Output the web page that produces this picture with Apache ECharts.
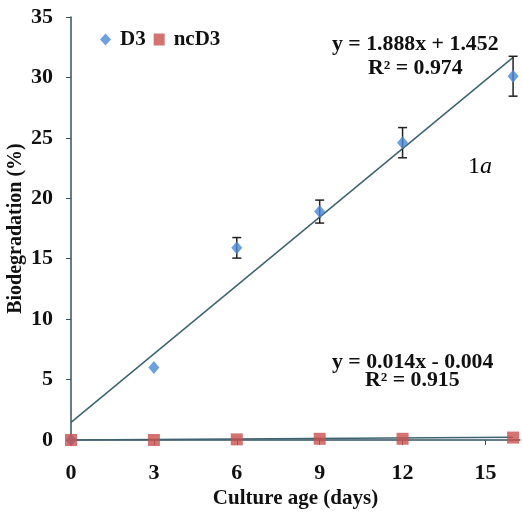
<!DOCTYPE html>
<html>
<head>
<meta charset="utf-8">
<script src="https://cdn.jsdelivr.net/npm/echarts@6/dist/echarts.min.js"></script>
<style>
  html, body { margin: 0; padding: 0; background: #fff; }
  #main { width: 522px; height: 515px; }
</style>
</head>
<body>
<div id="main"></div>
<script>
// culture age (days)
const days = [0, 3, 6, 9, 12, 16];
// biodegradation (%)
const d3 = [0, 6.0, 15.9, 18.9, 24.6, 30.1];
const d3Err = [0, 0, 0.85, 0.95, 1.25, 1.65];
const ncd3 = [0, 0, 0.05, 0.1, 0.1, 0.2];
// trendline end points
const d3Trend = [[0, 1.452], [16, 31.66]];
const ncd3Trend = [[0, -0.004], [16, 0.22]];

const serif = '"Liberation Serif", "DejaVu Serif", serif';
const axisColor = '#35515f';

const chart = echarts.init(document.getElementById('main'));

// equation text, a bit stretched like the original
function eq(x, y, text) {
    return { type: 'text', x: x, y: y, scaleX: 1.09, style: { text: text, font: 'bold 20px ' + serif, fill: '#111' } };
}

const option = {
    backgroundColor: '#fff',
    animation: false,
    grid: { left: 71, right: 2, top: 17, bottom: 75, outerBoundsMode: 'none', containLabel: false },
    legend: {
        left: 95,
        top: 24,
        itemWidth: 11,
        itemHeight: 12,
        itemGap: 8,
        textStyle: { fontFamily: serif, fontWeight: 'bold', fontSize: 21, color: '#111', padding: [0, 0, 0, 4] },
        data: [
            { name: 'D3', icon: 'diamond' },
            { name: 'ncD3', icon: 'rect' }
        ]
    },
    xAxis: {
        type: 'value',
        min: 0,
        max: 16.25,
        interval: 3,
        name: 'Culture age (days)',
        nameLocation: 'middle',
        nameGap: 48,
        nameMoveOverlap: false,
        nameTextStyle: { fontFamily: serif, fontWeight: 'bold', fontSize: 21, color: '#111' },
        axisLine: { lineStyle: { color: axisColor, width: 1.5 } },
        axisTick: { length: 5, lineStyle: { color: axisColor } },
        axisLabel: {
            showMaxLabel: false,
            margin: 22,
            fontFamily: serif, fontWeight: 'bold', fontSize: 22, color: '#111'
        },
        splitLine: { show: false }
    },
    yAxis: {
        type: 'value',
        min: 0,
        max: 35,
        interval: 5,
        name: 'Biodegradation (%)',
        nameLocation: 'middle',
        nameGap: 45,
        nameMoveOverlap: false,
        nameTextStyle: { fontFamily: serif, fontWeight: 'bold', fontSize: 20, color: '#111' },
        axisLine: { show: true, lineStyle: { color: axisColor, width: 1.5 } },
        axisTick: { show: true, length: 5, lineStyle: { color: axisColor } },
        axisLabel: {
            margin: 18,
            fontFamily: serif, fontWeight: 'bold', fontSize: 22, color: '#111'
        },
        splitLine: { show: false }
    },
    graphic: [
        eq(332, 35, 'y = 1.888x + 1.452'),
        eq(368, 59, 'R² = 0.974'),
        eq(332, 353, 'y = 0.014x - 0.004'),
        eq(365, 371, 'R² = 0.915'),
        {
            type: 'text', x: 468, y: 155,
            style: {
                rich: {
                    n: { fontFamily: serif, fontSize: 24, color: '#555' },
                    a: { fontFamily: serif, fontSize: 24, fontStyle: 'italic', color: '#555' }
                },
                text: '{n|1}{a|a}'
            }
        }
    ],
    series: [
        {
            name: 'D3 trend',
            type: 'line',
            data: d3Trend,
            showSymbol: false,
            symbol: 'none',
            lineStyle: { color: '#3d6370', width: 1.5 },
            silent: true,
            z: 1
        },
        {
            name: 'ncD3 trend',
            type: 'line',
            data: ncd3Trend,
            showSymbol: false,
            symbol: 'none',
            lineStyle: { color: '#3d6370', width: 1.5 },
            silent: true,
            z: 1
        },
        {
            name: 'D3 error',
            type: 'custom',
            clip: false,
            data: days.map((d, i) => [d, d3[i] - d3Err[i], d3[i] + d3Err[i]]),
            renderItem: function (params, api) {
                if (api.value(2) - api.value(1) <= 0) return;
                const top = api.coord([api.value(0), api.value(2)]);
                const bot = api.coord([api.value(0), api.value(1)]);
                const style = { stroke: '#222', lineWidth: 1.5 };
                const w = 4.5;
                return {
                    type: 'group',
                    children: [
                        { type: 'line', shape: { x1: top[0], y1: top[1], x2: bot[0], y2: bot[1] }, style: style },
                        { type: 'line', shape: { x1: top[0] - w, y1: top[1], x2: top[0] + w, y2: top[1] }, style: style },
                        { type: 'line', shape: { x1: bot[0] - w, y1: bot[1], x2: bot[0] + w, y2: bot[1] }, style: style }
                    ]
                };
            },
            z: 2
        },
        {
            name: 'D3',
            type: 'scatter',
            clip: false,
            symbol: 'diamond',
            symbolSize: [11, 13],
            itemStyle: { color: '#4a88d6' },
            data: days.map((d, i) => [d, d3[i]]),
            z: 3
        },
        {
            name: 'ncD3',
            type: 'scatter',
            clip: false,
            symbol: 'rect',
            symbolSize: 12,
            itemStyle: { color: '#c9504e' },
            data: days.map((d, i) => [d, ncd3[i]]),
            z: 4
        }
    ]
};

chart.setOption(option);
</script>
</body>
</html>
